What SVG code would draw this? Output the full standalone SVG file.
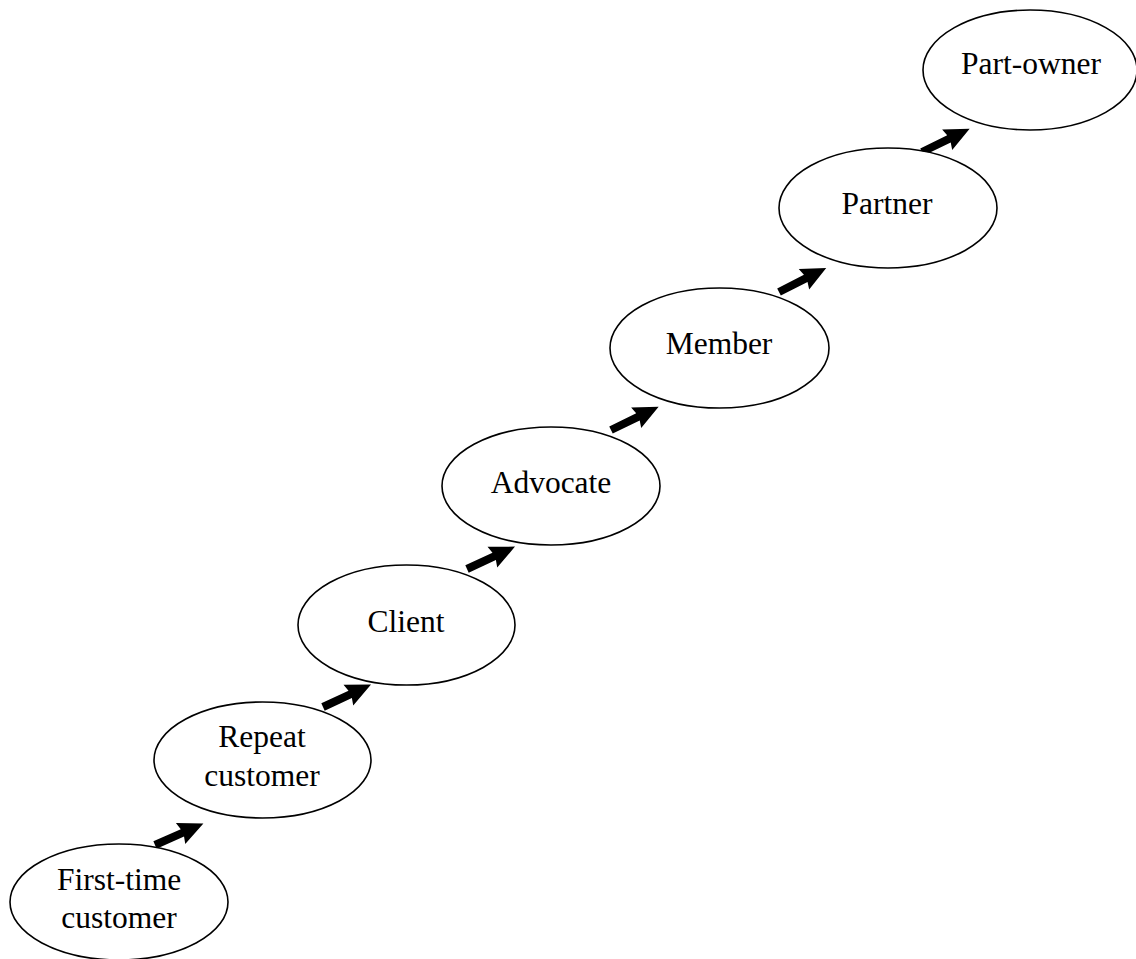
<svg xmlns="http://www.w3.org/2000/svg" width="1136" height="959" viewBox="0 0 1136 959">
  <style>
    .stage ellipse { fill: #ffffff; stroke: #000000; stroke-width: 1.6; }
    .stage text { font-family: "Liberation Serif", "Times New Roman", serif; font-size: 31.5px; fill: #000000; text-anchor: middle; }
    .step { fill: #000000; }
  </style>
  <defs>
    <!-- block arrow pointing along +x, tail at origin -->
    <path id="blockArrow" d="M0,-4 L30,-4 L28,-11.5 L53,0 L28,11.5 L30,4 L0,4 Z"/>
  </defs>
  <rect width="1136" height="959" fill="#ffffff"/>

  <g id="connectors">
    <use href="#blockArrow" class="step" transform="translate(155,845) rotate(-24)"/>
    <use href="#blockArrow" class="step" transform="translate(323,707) rotate(-25)"/>
    <use href="#blockArrow" class="step" transform="translate(467,569) rotate(-25)"/>
    <use href="#blockArrow" class="step" transform="translate(611,430) rotate(-26)"/>
    <use href="#blockArrow" class="step" transform="translate(779,292) rotate(-27)"/>
    <use href="#blockArrow" class="step" transform="translate(922,152) rotate(-26)"/>
  </g>

  <g id="first-time-customer" class="stage">
    <ellipse cx="119" cy="902" rx="109" ry="58"/>
    <text x="119" y="890">First-time</text>
    <text x="119" y="928">customer</text>
  </g>
  <g id="repeat-customer" class="stage">
    <ellipse cx="262.5" cy="760" rx="108.5" ry="58"/>
    <text x="262" y="747">Repeat</text>
    <text x="262" y="786">customer</text>
  </g>
  <g id="client" class="stage">
    <ellipse cx="406.5" cy="625" rx="108.5" ry="60"/>
    <text x="406" y="632">Client</text>
  </g>
  <g id="advocate" class="stage">
    <ellipse cx="551" cy="486" rx="109" ry="59"/>
    <text x="551" y="493">Advocate</text>
  </g>
  <g id="member" class="stage">
    <ellipse cx="719.5" cy="348" rx="109.5" ry="60"/>
    <text x="719" y="354">Member</text>
  </g>
  <g id="partner" class="stage">
    <ellipse cx="888" cy="208" rx="109" ry="60"/>
    <text x="887" y="214">Partner</text>
  </g>
  <g id="part-owner" class="stage">
    <ellipse cx="1030" cy="70" rx="107" ry="60"/>
    <text x="1031" y="74">Part-owner</text>
  </g>
</svg>
